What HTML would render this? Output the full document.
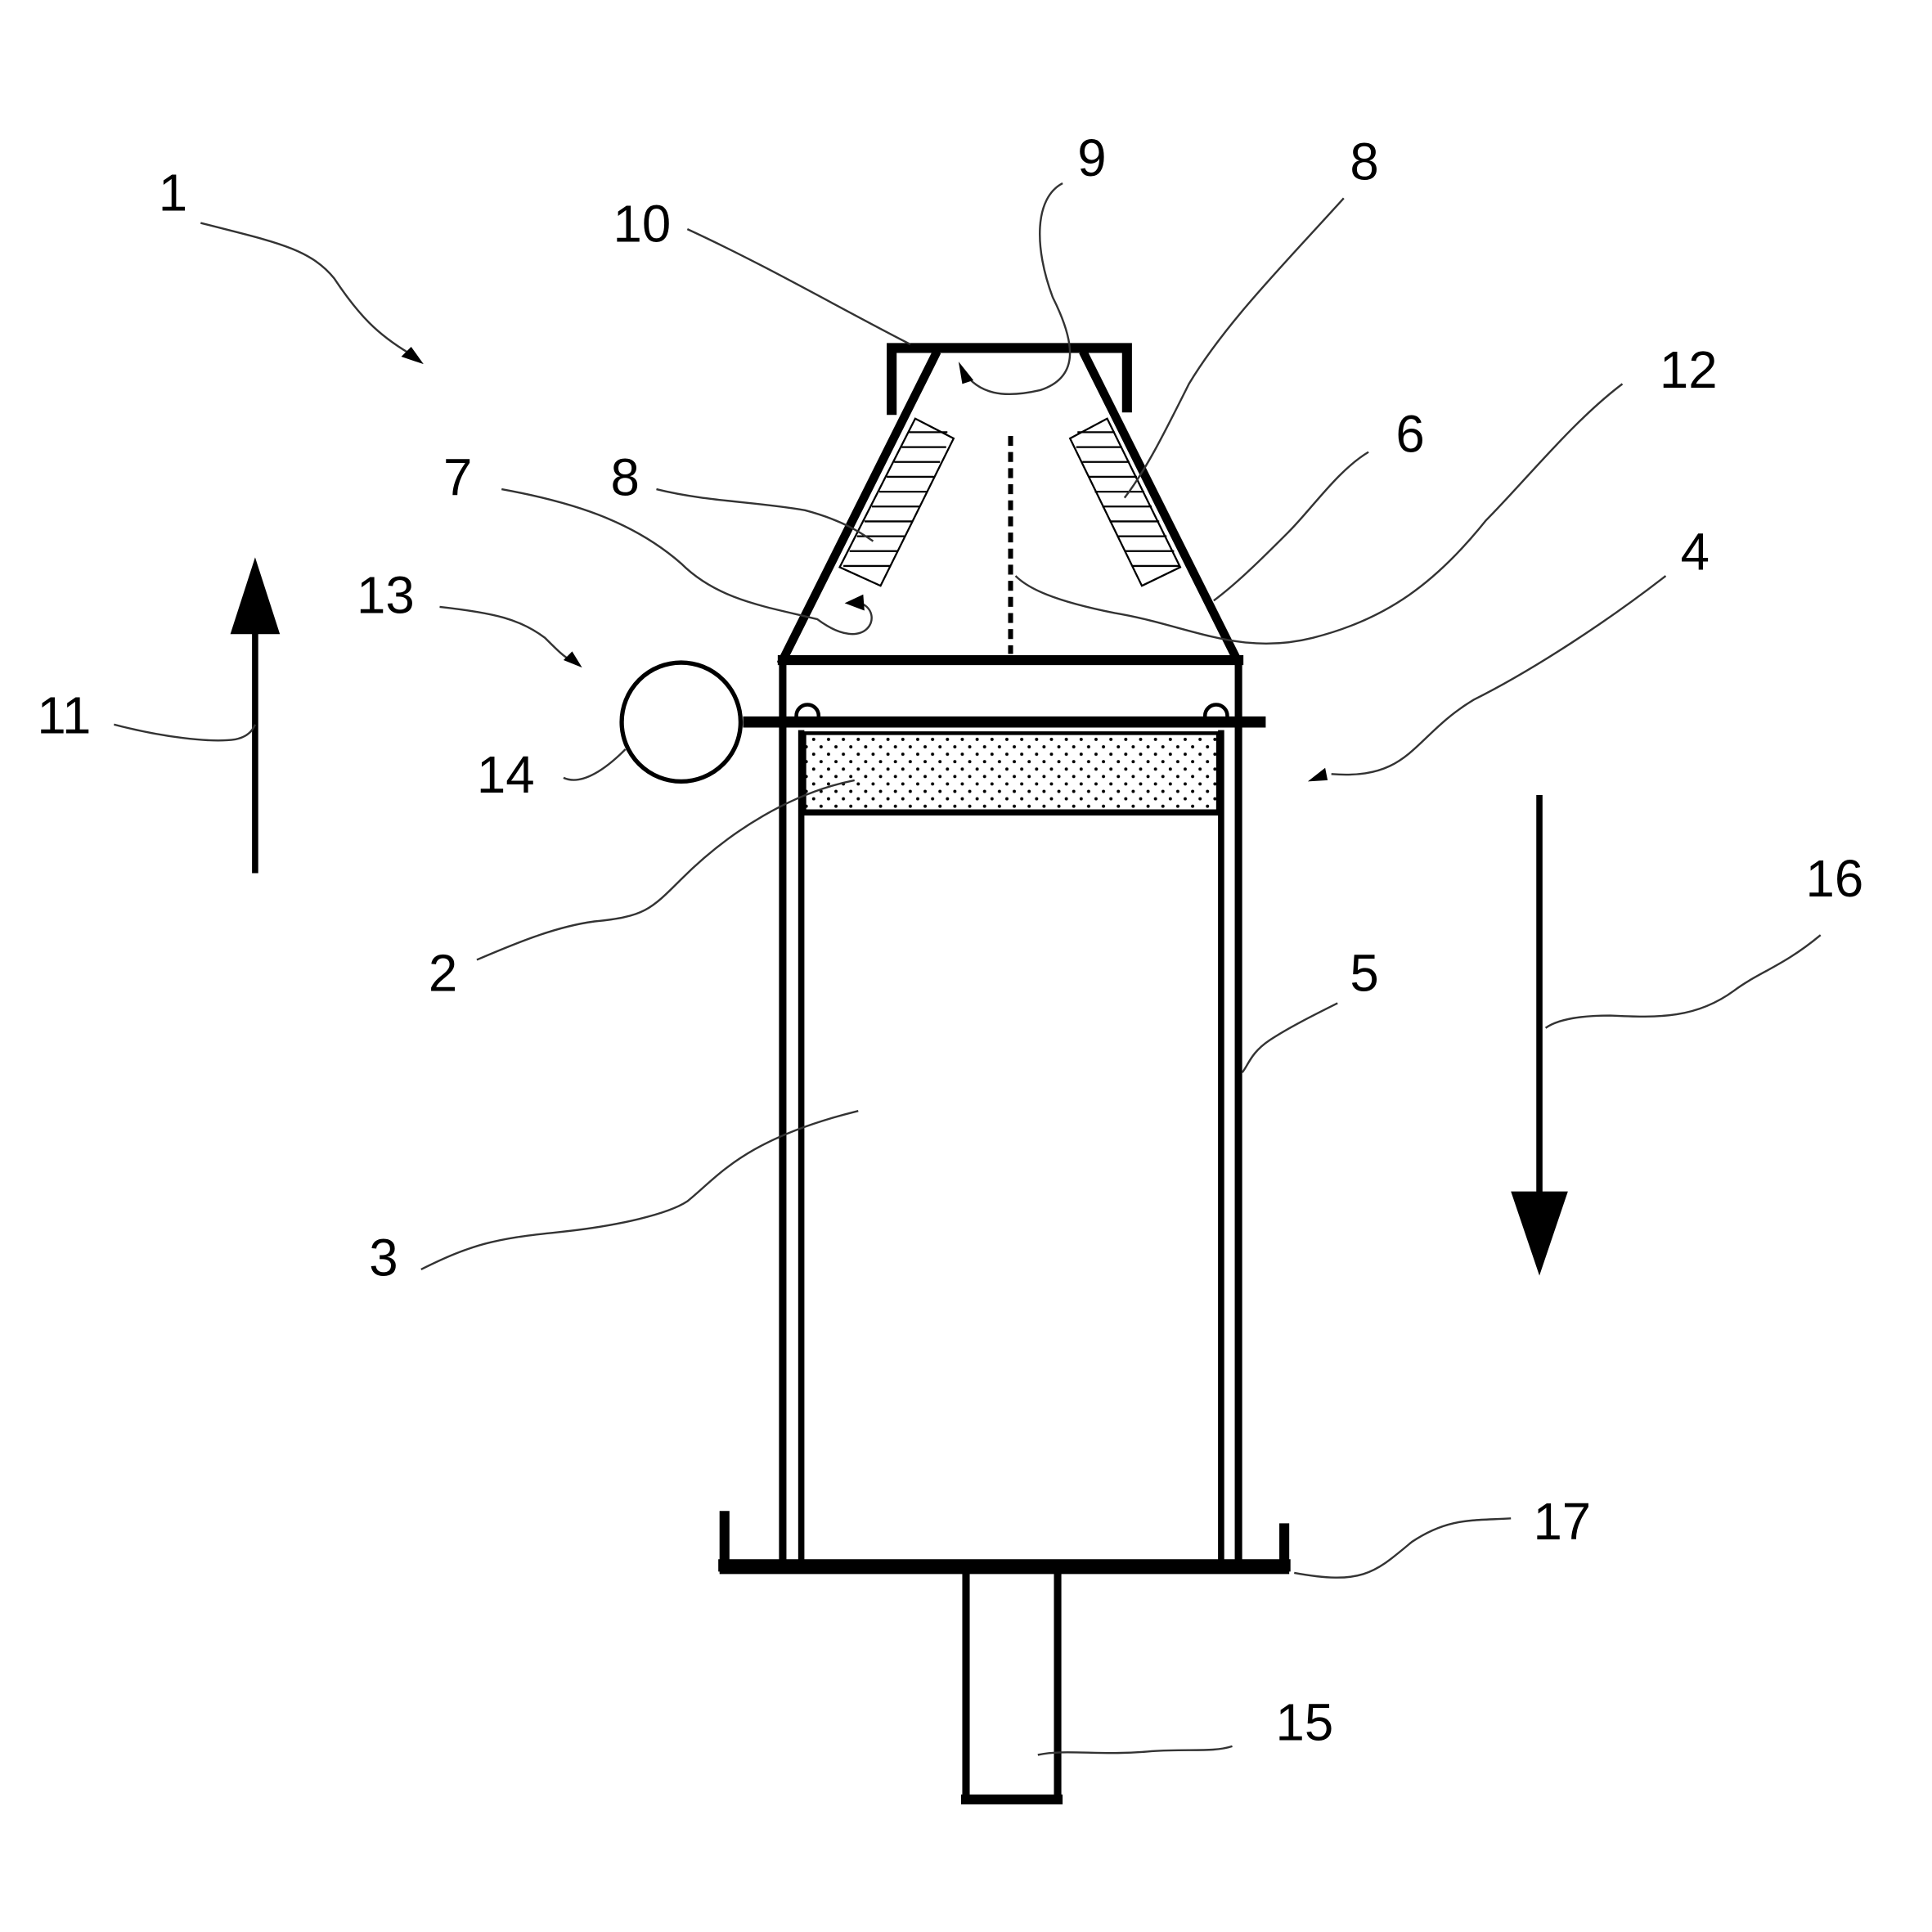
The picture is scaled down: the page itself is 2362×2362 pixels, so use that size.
<!DOCTYPE html>
<html><head><meta charset="utf-8"><style>
html,body{margin:0;padding:0;background:#fff}
svg{display:block}
text{font-family:"Liberation Sans",sans-serif;font-size:42px;fill:#000}
</style></head><body>
<svg width="2362" height="2362" viewBox="0 0 1560 1560" xmlns="http://www.w3.org/2000/svg">
<defs>
<pattern id="dots" width="12" height="12" patternUnits="userSpaceOnUse">
<circle cx="3" cy="3" r="1.3" fill="#000"/><circle cx="9" cy="9" r="1.3" fill="#000"/>
</pattern>
</defs>
<g fill="none" stroke="#000" stroke-linecap="square">
<!-- cap -->
<polyline points="720,331 720,281 910,281 910,329" stroke-width="8"/>
<!-- cone -->
<line x1="755" y1="287" x2="632" y2="533" stroke-width="7"/>
<line x1="876" y1="287" x2="999" y2="533" stroke-width="7"/>
<line x1="632" y1="533" x2="1000" y2="533" stroke-width="8"/>
<!-- dashed -->
<line x1="816" y1="352" x2="816" y2="528" stroke-width="4" stroke-dasharray="8,5" stroke-linecap="butt"/>
<!-- tubes -->
<line x1="632" y1="533" x2="632" y2="1264" stroke-width="6"/>
<line x1="1000" y1="533" x2="1000" y2="1264" stroke-width="6"/>
<line x1="647" y1="592" x2="647" y2="1262" stroke-width="5"/>
<line x1="986" y1="592" x2="986" y2="1262" stroke-width="5"/>
<!-- bar -->
<line x1="600" y1="583" x2="1022" y2="583" stroke-width="9" stroke-linecap="butt"/>
<path d="M643,578 a9,9 0 0 1 18,0" stroke-width="3"/>
<path d="M973,578 a9,9 0 0 1 18,0" stroke-width="3"/>
<!-- filter -->
<rect x="649" y="592" width="335" height="62" fill="url(#dots)" stroke="none"/>
<line x1="649" y1="592" x2="984" y2="592" stroke-width="3"/>
<line x1="649" y1="656" x2="984" y2="656" stroke-width="5"/>
<line x1="650" y1="592" x2="650" y2="656" stroke-width="2"/>
<line x1="983" y1="592" x2="983" y2="656" stroke-width="2"/>
<!-- circle 14 -->
<circle cx="550" cy="583" r="48" stroke-width="3.5"/>
<!-- base -->
<polyline points="585,1220 585,1267 1037,1267 1037,1230" stroke-width="8" stroke-linecap="butt"/>
<line x1="585" y1="1264" x2="1037" y2="1264" stroke-width="10"/>
<polyline points="780,1270 780,1454 854,1454 854,1270" stroke-width="6"/>
<line x1="780" y1="1453" x2="854" y2="1453" stroke-width="8"/>
<!-- hatched blocks -->
<polygon points="739,338 770,354 711,473 678,458" stroke-width="1.5"/>
<polygon points="894,338 864,354 922,473 953,458" stroke-width="1.5"/>
<g stroke-width="1.5" stroke-linecap="butt">
<line x1="734" y1="349" x2="765" y2="349"/>
<line x1="728" y1="361" x2="764" y2="361"/>
<line x1="722" y1="373" x2="759" y2="373"/>
<line x1="716" y1="385" x2="754" y2="385"/>
<line x1="710" y1="397" x2="749" y2="397"/>
<line x1="704" y1="409" x2="743" y2="409"/>
<line x1="698" y1="421" x2="737" y2="421"/>
<line x1="692" y1="433" x2="731" y2="433"/>
<line x1="686" y1="445" x2="725" y2="445"/>
<line x1="681" y1="457" x2="719" y2="457"/>
<line x1="870" y1="349" x2="900" y2="349"/>
<line x1="869" y1="361" x2="906" y2="361"/>
<line x1="874" y1="373" x2="912" y2="373"/>
<line x1="879" y1="385" x2="918" y2="385"/>
<line x1="884" y1="397" x2="924" y2="397"/>
<line x1="890" y1="409" x2="930" y2="409"/>
<line x1="896" y1="421" x2="936" y2="421"/>
<line x1="902" y1="433" x2="942" y2="433"/>
<line x1="908" y1="445" x2="948" y2="445"/>
<line x1="914" y1="457" x2="952" y2="457"/>
</g>
<!-- arrows 11, 16 -->
<line x1="206" y1="705" x2="206" y2="505" stroke-width="5" stroke-linecap="butt"/>
<line x1="1243" y1="642" x2="1243" y2="970" stroke-width="5" stroke-linecap="butt"/>
</g>
<polygon points="186,512 206,450 226,512" fill="#000"/>
<polygon points="1220,962 1243,1030 1266,962" fill="#000"/>
<!-- leaders -->
<g fill="none" stroke="#333" stroke-width="1.6">
<path d="M162,180 C220,195 250,200 270,225 C290,255 305,270 330,285"/>
<path d="M555,185 C620,215 680,250 735,278"/>
<path d="M858,148 C835,160 835,200 850,240 C870,280 870,305 840,315 C810,322 790,318 778,300"/>
<path d="M1085,160 C1040,210 990,260 960,310 C940,350 925,380 908,402"/>
<path d="M530,395 C570,405 610,405 650,412 C680,420 695,430 705,437"/>
<path d="M405,395 C460,405 510,420 550,455 C580,485 620,490 660,500 C700,530 715,495 695,487"/>
<path d="M1310,310 C1270,340 1230,390 1200,420 C1160,470 1120,500 1060,515 C1000,530 960,505 900,495 C850,485 830,475 820,465"/>
<path d="M1105,365 C1080,380 1060,410 1040,430 C1020,450 1000,470 980,485"/>
<path d="M1345,465 C1300,500 1240,540 1190,565 C1140,595 1140,630 1075,625"/>
<path d="M355,490 C400,495 420,500 440,515 C450,525 455,530 462,534"/>
<path d="M92,585 C130,595 170,600 190,597 C200,595 204,590 206,585"/>
<path d="M455,628 C470,635 490,620 505,605"/>
<path d="M385,775 C420,760 450,748 480,744 C520,740 525,735 550,710 C590,670 640,640 690,630"/>
<path d="M1080,810 C1060,820 1040,830 1025,840 C1010,850 1008,860 1003,866"/>
<path d="M1470,755 C1440,780 1420,785 1400,800 C1370,822 1340,822 1300,820 C1270,820 1255,825 1248,830"/>
<path d="M340,1025 C380,1005 400,1000 450,995 C500,990 540,980 555,970 C580,950 600,920 693,897"/>
<path d="M1220,1226 C1190,1228 1170,1225 1140,1245 C1110,1270 1100,1280 1045,1270"/>
<path d="M995,1410 C980,1415 960,1412 930,1414 C890,1418 860,1412 838,1417"/>
</g>
<g fill="#000">
<polygon points="342,294 324,288 332,280"/>
<polygon points="774,292 786,307 777,310"/>
<polygon points="682,487 697,480 698,493"/>
<polygon points="1056,631 1070,620 1072,630"/>
<polygon points="470,539 455,533 462,526"/>
</g>
<text x="128" y="170">1</text>
<text x="495" y="195">10</text>
<text x="870" y="142">9</text>
<text x="1090" y="145">8</text>
<text x="1340" y="313">12</text>
<text x="1127" y="365">6</text>
<text x="358" y="400">7</text>
<text x="493" y="400">8</text>
<text x="1357" y="460">4</text>
<text x="288" y="495">13</text>
<text x="30" y="592">11</text>
<text x="385" y="640">14</text>
<text x="346" y="800">2</text>
<text x="1090" y="800">5</text>
<text x="1458" y="724">16</text>
<text x="298" y="1030">3</text>
<text x="1238" y="1243">17</text>
<text x="1030" y="1405">15</text>
</svg>
</body></html>
